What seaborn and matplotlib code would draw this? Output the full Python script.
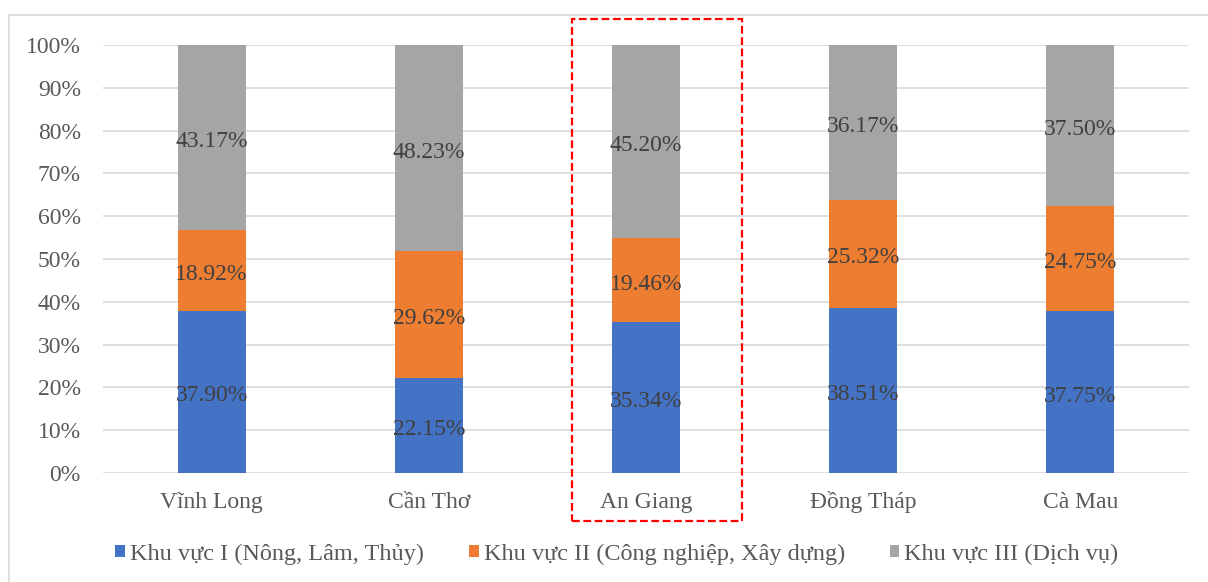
import matplotlib
matplotlib.use("Agg")
import matplotlib.pyplot as plt
import seaborn as sns
from matplotlib.patches import Rectangle, Patch
from matplotlib.ticker import FuncFormatter
from matplotlib.transforms import offset_copy

# Cơ cấu kinh tế theo khu vực (%)
provinces = ["Vĩnh Long", "Cần Thơ", "An Giang", "Đồng Tháp", "Cà Mau"]
khu_vuc_1 = [37.90, 22.15, 35.34, 38.51, 37.75]
khu_vuc_2 = [18.92, 29.62, 19.46, 25.32, 24.75]
khu_vuc_3 = [43.17, 48.23, 45.20, 36.17, 37.50]
series_names = [
    "Khu vực I (Nông, Lâm, Thủy)",
    "Khu vực II (Công nghiệp, Xây dựng)",
    "Khu vực III (Dịch vụ)",
]
y_ticks = [0, 10, 20, 30, 40, 50, 60, 70, 80, 90, 100]
highlight = "An Giang"

colors = ["#4472C4", "#ED7D31", "#A5A5A5"]
label_color = "#404040"
tick_color = "#595959"
grid_color = "#D9D9D9"

sns.set_theme(style="white")
plt.rcParams["font.family"] = ["Liberation Serif", "DejaVu Serif"]

W, H = 1208, 582
fig = plt.figure(figsize=(W / 100, H / 100), dpi=100)
ax = fig.add_axes([103 / W, 1 - 473 / H, (1189 - 103) / W, 428 / H])

# Nhãn giá trị đặt hơi thấp hơn tâm đoạn cột
label_tf = offset_copy(ax.transData, fig=fig, x=0, y=-4, units="dots")

bottoms = [0.0] * len(provinces)
for values, color in zip([khu_vuc_1, khu_vuc_2, khu_vuc_3], colors):
    sns.barplot(x=provinces, y=values, color=color, saturation=1,
                width=0.313, bottom=bottoms, ax=ax, zorder=3,
                linewidth=0, edgecolor="none")
    for i, (v, b) in enumerate(zip(values, bottoms)):
        ax.text(i, b + v / 2, f"{v:.2f}%", ha="center", va="center",
                fontsize=17, color=label_color, zorder=4, transform=label_tf)
    bottoms = [b + v for b, v in zip(bottoms, values)]

ax.set_xlim(-0.5, len(provinces) - 0.5)
ax.set_ylim(0, 100)
ax.set_yticks(y_ticks)
ax.yaxis.set_major_formatter(FuncFormatter(lambda v, _: f"{v:.0f}%"))
ax.grid(axis="y", color=grid_color, lw=1.2, zorder=0)
ax.grid(axis="x", visible=False)
for s in ax.spines.values():
    s.set_visible(False)
ax.tick_params(axis="y", length=0, pad=16, labelsize=17, labelcolor=tick_color)
ax.tick_params(axis="x", length=0, pad=25, labelsize=17, labelcolor=tick_color)
for lbl in ax.get_xticklabels():
    lbl.set_verticalalignment("baseline")
ax.set_xlabel("")
ax.set_ylabel("")

# Khung nét đứt làm nổi bật tỉnh An Giang
hi = provinces.index(highlight)
ax.add_patch(Rectangle((hi - 0.34, -11.2), 0.78, 117.3, fill=False,
                       edgecolor="#FF0000", lw=1.6, linestyle=(0, (3.5, 1.6)),
                       clip_on=False, zorder=5))

# Viền ngoài của biểu đồ
fig.add_artist(Rectangle((9 / W, -0.1), 1.2, 1 - 15 / H + 0.1,
                         transform=fig.transFigure, fill=False,
                         edgecolor=grid_color, lw=1.2))

handles = [Patch(facecolor=c, edgecolor="none") for c in colors]
fig.legend(handles, series_names, loc="center", bbox_to_anchor=(617 / W, 1 - 554 / H),
           ncol=3, frameon=False, fontsize=17.5, labelcolor=tick_color,
           handlelength=0.4, handleheight=0.4, handletextpad=0.2,
           columnspacing=1.85)

fig.savefig("out.png", dpi=100)
